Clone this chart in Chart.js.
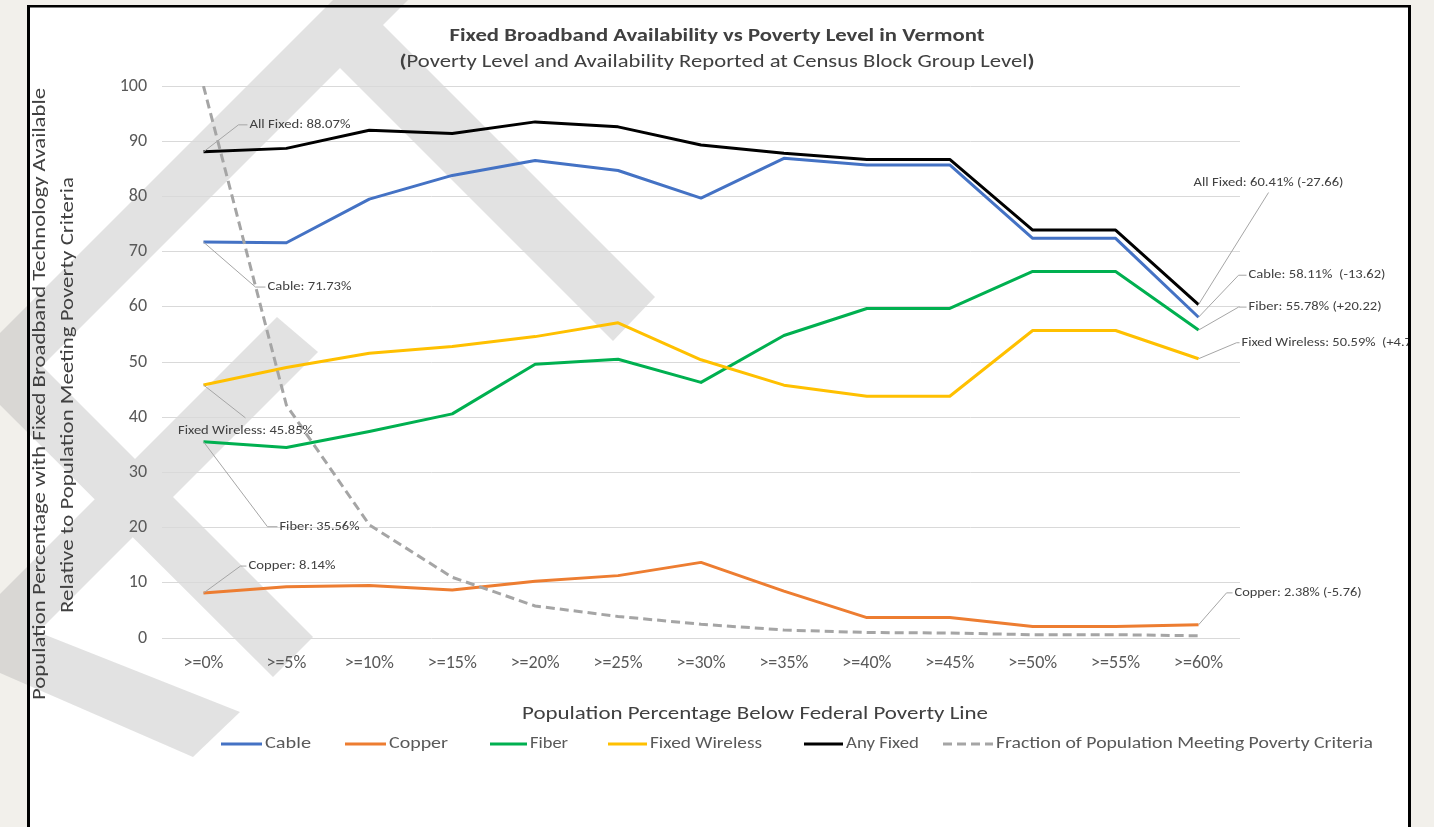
<!DOCTYPE html>
<html><head><meta charset="utf-8">
<script src="https://cdn.jsdelivr.net/npm/chart.js@4.4.1/dist/chart.umd.min.js"></script>
<style>html,body{margin:0;padding:0;background:#f2f0eb;overflow:hidden}#wrap{position:absolute;left:0;top:0;width:1434px;height:827px}</style>
</head><body><div id="wrap"><canvas id="c" width="1434" height="827"></canvas></div>
<script>
const categories = [">=0%",">=5%",">=10%",">=15%",">=20%",">=25%",">=30%",">=35%",">=40%",">=45%",">=50%",">=55%",">=60%"];
const cable = [71.73,71.6,79.5,83.8,86.5,84.7,79.7,86.9,85.7,85.7,72.4,72.4,58.11];
const copper = [8.14,9.3,9.5,8.7,10.3,11.3,13.7,8.5,3.7,3.7,2.1,2.1,2.38];
const fiber = [35.56,34.5,37.4,40.6,49.6,50.5,46.3,54.8,59.7,59.7,66.4,66.4,55.78];
const fixedWireless = [45.85,49.0,51.6,52.8,54.6,57.1,50.4,45.8,43.8,43.8,55.7,55.7,50.59];
const anyFixed = [88.07,88.7,92.0,91.4,93.5,92.6,89.3,87.8,86.7,86.7,73.9,73.9,60.41];
const povertyFraction = [100,42.2,20.5,11.0,5.8,3.9,2.5,1.45,1.0,0.9,0.6,0.6,0.4];
const yTickValues = [0,10,20,30,40,50,60,70,80,90,100];

const seriesNames = ["Cable","Copper","Fiber","Fixed Wireless","Any Fixed","Fraction of Population Meeting Poverty Criteria"];
const seriesColors = ["#4472C4","#ED7D31","#00B050","#FFC000","#000000","#A5A5A5"];

const FONT = "Carlito, Lato, 'Open Sans', sans-serif";

function fitText(ctx, text, x, y, size, weight, align, targetW, color){
  ctx.save();
  ctx.font = weight + " " + size + "px " + FONT;
  ctx.fillStyle = color;
  ctx.textBaseline = "middle";
  const w = ctx.measureText(text).width;
  let sx = 1;
  if (targetW) { sx = Math.max(0.8, Math.min(1.25, targetW / w)); }
  const dw = w * sx;
  let left = x;
  if (align === "center") left = x - dw/2;
  else if (align === "right") left = x - dw;
  ctx.translate(left, y);
  ctx.scale(sx, 1);
  ctx.textAlign = "left";
  ctx.fillText(text, 0, 0);
  ctx.restore();
}

const bgPlugin = {
  id: "bg",
  beforeDraw(chart){
    const ctx = chart.ctx;
    ctx.save();
    ctx.fillStyle = "#f2f0eb";
    ctx.fillRect(0,0,1434,827);
    ctx.fillStyle = "#ffffff";
    ctx.fillRect(28,6,1382,821);
    // watermark shapes (decorative background)
    const off = document.createElement("canvas");
    off.width = 1434; off.height = 827;
    const o = off.getContext("2d");
    o.fillStyle = "#000";
    const polys = [
      [[333,0],[358,0],[655,297],[613,341],[340,68]],
      [[333,0],[408,0],[42,366],[313,637],[273,677],[-36,369]],
      [[277,317],[318,352],[-10,680],[-10,604]],
      [[0,617],[240,712],[193,757],[0,673]]
    ];
    polys.forEach(p=>{ o.beginPath(); o.moveTo(p[0][0],p[0][1]); for(let i=1;i<p.length;i++) o.lineTo(p[i][0],p[i][1]); o.closePath(); o.fill(); });
    o.globalCompositeOperation = "source-in";
    o.fillStyle = "#a0a0a0";
    o.fillRect(0,0,1434,827);
    ctx.globalAlpha = 0.3;
    ctx.drawImage(off,0,0);
    ctx.globalAlpha = 1;
    // borders
    ctx.fillStyle = "#000";
    ctx.fillRect(27,5,1384,2.5);
    ctx.fillRect(27,5,3,822);
    ctx.fillRect(1408,5,3,822);
    ctx.restore();
  }
};

const overlayPlugin = {
  id: "overlay",
  afterDraw(chart){
    const ctx = chart.ctx;
    const xs = chart.scales.x, ys = chart.scales.y;
    // titles
    fitText(ctx, "Fixed Broadband Availability vs Poverty Level in Vermont", 717, 36, 19, "bold", "center", 535, "#404040");
    // subtitle with bold parentheses
    (function(){
      const inner = "Poverty Level and Availability Reported at Census Block Group Level";
      ctx.save();
      ctx.font = "normal 19px " + FONT;
      const wi = ctx.measureText(inner).width;
      ctx.font = "bold 19px " + FONT;
      const wp = ctx.measureText("(").width;
      const total = wi + 2*wp;
      const sx = 635 / total;
      const left = 717 - 635/2;
      ctx.translate(left, 62);
      ctx.scale(sx, 1);
      ctx.fillStyle = "#404040";
      ctx.textBaseline = "middle";
      ctx.textAlign = "left";
      ctx.font = "bold 19px " + FONT;
      ctx.fillText("(", 0, 0);
      ctx.font = "normal 19px " + FONT;
      ctx.fillText(inner, wp, 0);
      ctx.font = "bold 19px " + FONT;
      ctx.fillText(")", wp + wi, 0);
      ctx.restore();
    })();
    // x axis title
    fitText(ctx, "Population Percentage Below Federal Poverty Line", 755, 714, 19, "normal", "center", 466, "#404040");
    // y axis title (rotated)
    ctx.save();
    ctx.translate(40, 394);
    ctx.rotate(-Math.PI/2);
    fitText(ctx, "Population Percentage with Fixed Broadband Technology Available", 0, 0, 19, "normal", "center", 612, "#404040");
    ctx.restore();
    ctx.save();
    ctx.translate(68, 395);
    ctx.rotate(-Math.PI/2);
    fitText(ctx, "Relative to Population Meeting Poverty Criteria", 0, 0, 19, "normal", "center", 436, "#404040");
    ctx.restore();
    // legend
    const legendItems = [
      {lx:221, tx:265, tw:46},
      {lx:345, tx:389, tw:59},
      {lx:490, tx:530, tw:38},
      {lx:608, tx:650, tw:112},
      {lx:804, tx:846, tw:73},
      {lx:943, tx:996, tw:377}
    ];
    const ly = 744;
    legendItems.forEach((it,i)=>{
      ctx.save();
      ctx.strokeStyle = seriesColors[i];
      ctx.lineWidth = 3;
      if (i === 5) ctx.setLineDash([9,5]);
      ctx.beginPath();
      ctx.moveTo(it.lx, ly); ctx.lineTo(it.tx - 3, ly);
      ctx.stroke();
      ctx.restore();
      fitText(ctx, seriesNames[i], it.tx, ly, 17, "normal", "left", it.tw, "#595959");
    });
    // data labels with leader lines
    const px = i => xs.getPixelForValue(i);
    const py = v => ys.getPixelForValue(v);
    const last = categories.length - 1;
    const sgn = d => (d >= 0 ? "+" : "") + d.toFixed(2);
    const labels = [
      {i:0, v:anyFixed[0], dx:35, dy:-27, h:9, text:"All Fixed: " + anyFixed[0].toFixed(2) + "%", mode:"right", tw:101},
      {i:0, v:cable[0], dx:52, dy:45, h:10, text:"Cable: " + cable[0].toFixed(2) + "%", mode:"right", tw:84},
      {i:0, v:fixedWireless[0], dx:42, dy:33, h:0, text:"Fixed Wireless: " + fixedWireless[0].toFixed(2) + "%", mode:"below", tw:135},
      {i:0, v:fiber[0], dx:64, dy:85, h:10, text:"Fiber: " + fiber[0].toFixed(2) + "%", mode:"right", tw:80},
      {i:0, v:copper[0], dx:37, dy:-27, h:6, text:"Copper: " + copper[0].toFixed(2) + "%", mode:"right", tw:87},
      {i:last, v:anyFixed[last], dx:70, dy:-112, h:0, text:"All Fixed: " + anyFixed[last].toFixed(2) + "% (" + sgn(anyFixed[last]-anyFixed[0]) + ")", mode:"above", tw:150},
      {i:last, v:cable[last], dx:40, dy:-42, h:8, text:"Cable: " + cable[last].toFixed(2) + "%  (" + sgn(cable[last]-cable[0]) + ")", mode:"right", tw:137},
      {i:last, v:fiber[last], dx:40, dy:-23, h:8, text:"Fiber: " + fiber[last].toFixed(2) + "% (" + sgn(fiber[last]-fiber[0]) + ")", mode:"right", tw:133},
      {i:last, v:fixedWireless[last], dx:38, dy:-16, h:3, text:"Fixed Wireless: " + fixedWireless[last].toFixed(2) + "%  (" + sgn(fixedWireless[last]-fixedWireless[0]) + ")", mode:"right", tw:182},
      {i:last, v:copper[last], dx:28, dy:-32, h:6, text:"Copper: " + copper[last].toFixed(2) + "% (" + sgn(copper[last]-copper[0]) + ")", mode:"right", tw:127}
    ];
    ctx.save();
    ctx.beginPath();
    ctx.rect(30, 7, 1378, 820);
    ctx.clip();
    labels.forEach(l=>{
      const x0 = px(l.i), y0 = py(l.v);
      const x1 = x0 + l.dx, y1 = y0 + l.dy;
      ctx.save();
      ctx.strokeStyle = "#a6a6a6";
      ctx.lineWidth = 1;
      ctx.beginPath();
      ctx.moveTo(x0, y0); ctx.lineTo(x1, y1); ctx.lineTo(x1 + l.h, y1);
      ctx.stroke();
      ctx.restore();
      if (l.mode === "right") fitText(ctx, l.text, x1 + l.h + 2, y1, 13, "normal", "left", l.tw, "#404040");
      else if (l.mode === "below") fitText(ctx, l.text, x1, y1 + 13, 13, "normal", "center", l.tw, "#404040");
      else fitText(ctx, l.text, x1, y1 - 10, 13, "normal", "center", l.tw, "#404040");
    });
    ctx.restore();
  }
};

function ds(label, data, color, order, dash){
  return {label, data, borderColor: color, backgroundColor: color, borderWidth: 3, pointRadius: 0, pointHoverRadius: 0,
    tension: 0, fill: false, order, borderDash: dash || [], borderJoinStyle: "round", borderCapStyle: "butt"};
}

const chart = new Chart(document.getElementById("c").getContext("2d"), {
  type: "line",
  data: {
    labels: categories,
    datasets: [
      ds(seriesNames[0], cable, seriesColors[0], 6),
      ds(seriesNames[1], copper, seriesColors[1], 5),
      ds(seriesNames[2], fiber, seriesColors[2], 4),
      ds(seriesNames[3], fixedWireless, seriesColors[3], 3),
      ds(seriesNames[4], anyFixed, seriesColors[4], 2),
      ds(seriesNames[5], povertyFraction, seriesColors[5], 1, [9,5])
    ]
  },
  options: {
    responsive: false,
    animation: false,
    devicePixelRatio: 1,
    layout: { padding: { left: 0, top: 86, right: 194, bottom: 149 } },
    plugins: { legend: { display: false }, title: { display: false }, tooltip: { enabled: false } },
    scales: {
      x: {
        offset: true,
        grid: { display: false, drawTicks: false },
        border: { display: false },
        ticks: { font: { family: FONT, size: 18 }, color: "#595959", padding: 15, maxRotation: 0, autoSkip: false },
        afterFit(s){ s.height = 40; }
      },
      y: {
        min: 0, max: 100,
        afterBuildTicks(s){ s.ticks = yTickValues.map(v => ({value: v})); },
        ticks: { font: { family: FONT, size: 18 }, color: "#595959", padding: 15 },
        grid: { color: "#d9d9d9", lineWidth: 1, drawTicks: false },
        border: { display: false },
        afterFit(s){ s.width = 162; }
      }
    }
  },
  plugins: [bgPlugin, overlayPlugin]
});
</script>
</body></html>
